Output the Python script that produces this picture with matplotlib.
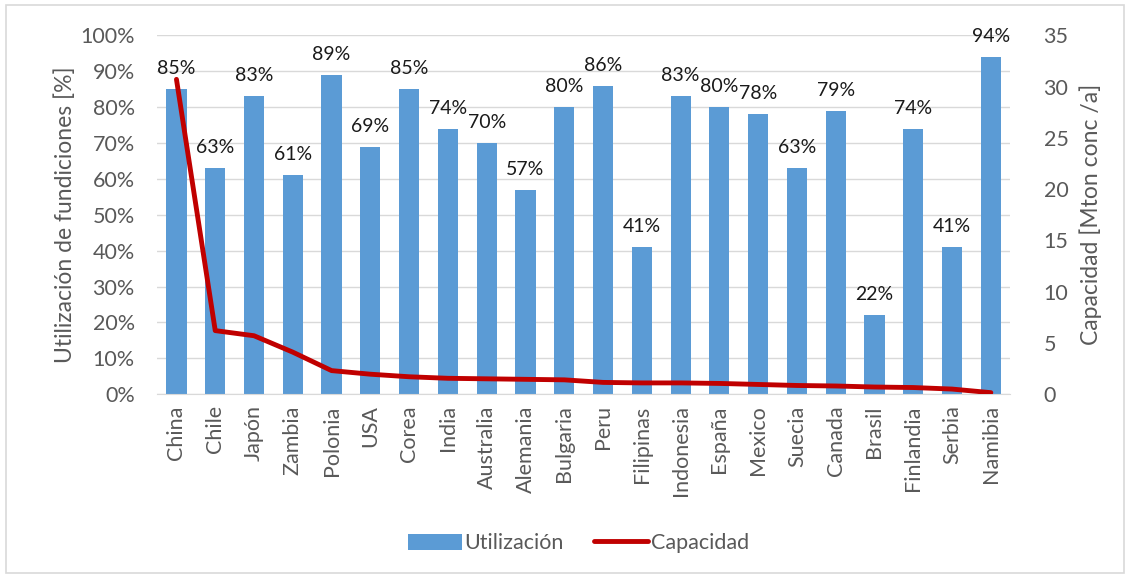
import matplotlib
matplotlib.use("Agg")
import matplotlib.pyplot as plt
from matplotlib.patches import Rectangle
import numpy as np

countries = ["China", "Chile", "Japón", "Zambia", "Polonia", "USA", "Corea", "India",
             "Australia", "Alemania", "Bulgaria", "Peru", "Filipinas", "Indonesia",
             "España", "Mexico", "Suecia", "Canada", "Brasil", "Finlandia", "Serbia", "Namibia"]
utilizacion = [85, 63, 83, 61, 89, 69, 85, 74, 70, 57, 80, 86, 41, 83, 80, 78, 63, 79, 22, 74, 41, 94]
capacidad = [30.7, 6.2, 5.7, 4.1, 2.3, 1.95, 1.7, 1.55, 1.5, 1.45, 1.4, 1.15, 1.1, 1.1,
             1.05, 0.95, 0.85, 0.8, 0.7, 0.65, 0.5, 0.15]

plt.rcParams['font.family'] = ['Lato', 'DejaVu Sans']
grey = "#595959"

fig = plt.figure(figsize=(11.3, 5.78), dpi=100)
fig.patches.append(Rectangle((0.005, 0.008), 0.99, 0.984, transform=fig.transFigure,
                             fill=False, edgecolor="#d9d9d9", linewidth=1.2))
ax = fig.add_axes([0.139, 0.318, 0.755, 0.621])
x = np.arange(len(countries))
bars = ax.bar(x, utilizacion, width=0.52, color="#5B9BD5", label="Utilización", zorder=2)
for xi, v in zip(x, utilizacion):
    ax.text(xi, v + 3.3, f"{v}%", ha="center", va="bottom", fontsize=14, color="#1a1a1a")
ax.set_ylim(0, 100)
ax.set_xlim(-0.5, len(countries) - 0.5)
ax.set_yticks(np.arange(0, 101, 10))
ax.set_yticklabels([f"{t}%" for t in range(0, 101, 10)])
ax.set_xticks(x)
ax.set_xticklabels(countries, rotation=90)
ax.grid(axis="y", color="#d9d9d9", linewidth=1, zorder=0)
ax.set_axisbelow(True)
for s in ["top", "right", "left"]:
    ax.spines[s].set_visible(False)
ax.spines["bottom"].set_color("#d9d9d9")
ax.tick_params(axis="y", length=0, colors=grey, labelsize=15.5, pad=16)
ax.tick_params(axis="x", length=0, colors=grey, labelsize=15.5, pad=8)
ax.set_ylabel("Utilización de fundiciones [%]", fontsize=16.5, color=grey, labelpad=3)

ax2 = ax.twinx()
line, = ax2.plot(x, capacidad, color="#C00000", linewidth=3.5, label="Capacidad",
                 solid_capstyle="round", zorder=3)
ax2.set_ylim(0, 35)
ax2.set_yticks(np.arange(0, 36, 5))
for s in ["top", "right", "left", "bottom"]:
    ax2.spines[s].set_visible(False)
ax2.tick_params(axis="y", length=0, colors=grey, labelsize=15.5, pad=24)
ax2.set_ylabel("Capacidad [Mton conc /a]", fontsize=16.5, color=grey, labelpad=8)

leg = fig.legend([bars, line], ["Utilización", "Capacidad"], loc="center",
                 bbox_to_anchor=(0.512, 0.06), ncol=2, frameon=False, fontsize=15.5,
                 handlelength=2.5, handleheight=0.8, columnspacing=1.4, handletextpad=0.15)
for t in leg.get_texts():
    t.set_color(grey)

fig.savefig("out.png", dpi=100)
